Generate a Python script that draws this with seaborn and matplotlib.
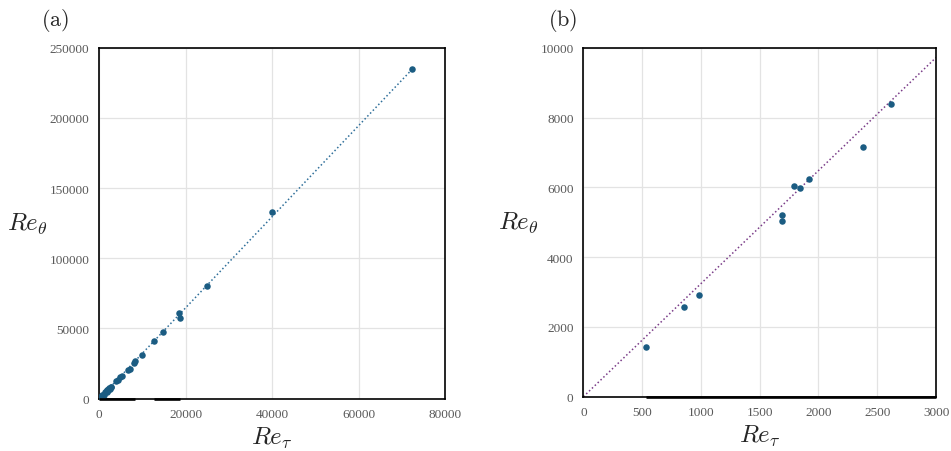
import matplotlib
matplotlib.use("Agg")
import matplotlib.pyplot as plt
import seaborn as sns
import pandas as pd

# ---- data -------------------------------------------------------------
# (a) full range of Re_tau
re_tau_a = [72400, 40000, 24970, 18340, 18730, 14640, 12680, 9990, 8290, 8090,
            7100, 6700, 5170, 4790, 4250, 3860, 2700, 2310, 1940, 1320, 690, 230,
            533, 859, 984, 1687, 1687, 1795, 1843, 1922, 2376, 2617]
re_theta_a = [234800, 133200, 80500, 61250, 57450, 47250, 41400, 31300, 26600, 25200,
              21150, 20440, 16380, 15240, 13320, 12390, 8550, 7410, 6200, 4560, 2850, 1420,
              1414, 2569, 2904, 5205, 5024, 6036, 5989, 6246, 7144, 8395]
fit_x_a = [0, 72400]
fit_y_a = [0, 234800]
base_x_a = [[0, 8250], [12600, 18700]]

# (b) low Re_tau range
re_tau_b = [533, 859, 984, 1687, 1687, 1795, 1843, 1922, 2376, 2617]
re_theta_b = [1414, 2569, 2904, 5205, 5024, 6036, 5989, 6246, 7144, 8395]
fit_x_b = [0, 3000]
fit_y_b = [0, 9720]
base_x_b = [[530, 3000]]

xticks_a = [0, 20000, 40000, 60000, 80000]
yticks_a = [0, 50000, 100000, 150000, 200000, 250000]
xticks_b = [0, 500, 1000, 1500, 2000, 2500, 3000]
yticks_b = [0, 2000, 4000, 6000, 8000, 10000]

# ---- style ------------------------------------------------------------
sns.set_theme(style="whitegrid")
plt.rcParams["font.family"] = ["Liberation Serif", "DejaVu Serif"]
plt.rcParams["mathtext.fontset"] = "cm"

point_color = "#1b5c82"
tick_color = "#595959"

fig = plt.figure(figsize=(9.51, 4.52), dpi=100)
ax_a = fig.add_axes([0.1044, 0.1157, 0.3638, 0.7766])
ax_b = fig.add_axes([0.6134, 0.1201, 0.3709, 0.7721])


def draw(ax, xs, ys, fx, fy, line_color, base, xt, yt):
    pts = pd.DataFrame({"Re_tau": xs, "Re_theta": ys})
    fit = pd.DataFrame({"Re_tau": fx, "Re_theta": fy})
    sns.lineplot(data=fit, x="Re_tau", y="Re_theta", ax=ax, color=line_color,
                 linestyle=(0, (1, 1.6)), linewidth=1.1, zorder=2)
    sns.scatterplot(data=pts, x="Re_tau", y="Re_theta", ax=ax, color=point_color,
                    s=22, linewidth=0, zorder=3)
    for seg in base:
        ax.plot(seg, [0, 0], color="black", linewidth=1.9, clip_on=False,
                zorder=4, solid_capstyle="butt")
    ax.set_xlim(xt[0], xt[-1])
    ax.set_ylim(yt[0], yt[-1])
    ax.set_xticks(xt)
    ax.set_yticks(yt)
    ax.set_xticklabels([str(v) for v in xt])
    ax.set_yticklabels([str(v) for v in yt])
    ax.tick_params(axis="both", length=0, pad=7, labelsize=9.5, labelcolor=tick_color)
    ax.grid(True, color="#e3e3e3", linewidth=0.9)
    for sp in ax.spines.values():
        sp.set_color("black")
        sp.set_linewidth(1.2)
        sp.set_visible(True)
    ax.set_xlabel(r"$Re_\tau$", fontsize=18, labelpad=3)
    ax.set_ylabel(r"$Re_\theta$", fontsize=18, rotation=0, labelpad=16, va="center")
    ax.set_facecolor("white")


draw(ax_a, re_tau_a, re_theta_a, fit_x_a, fit_y_a, "#2f6f9a", base_x_a,
     xticks_a, yticks_a)
draw(ax_b, re_tau_b, re_theta_b, fit_x_b, fit_y_b, "#7a3c88", base_x_b,
     xticks_b, yticks_b)

fig.text(55 / 951, 1 - 20 / 452, r"$\mathrm{(a)}$", fontsize=16, ha="center", va="center")
fig.text(563 / 951, 1 - 20 / 452, r"$\mathrm{(b)}$", fontsize=16, ha="center", va="center")

fig.savefig("out.png", dpi=100, facecolor="white")
